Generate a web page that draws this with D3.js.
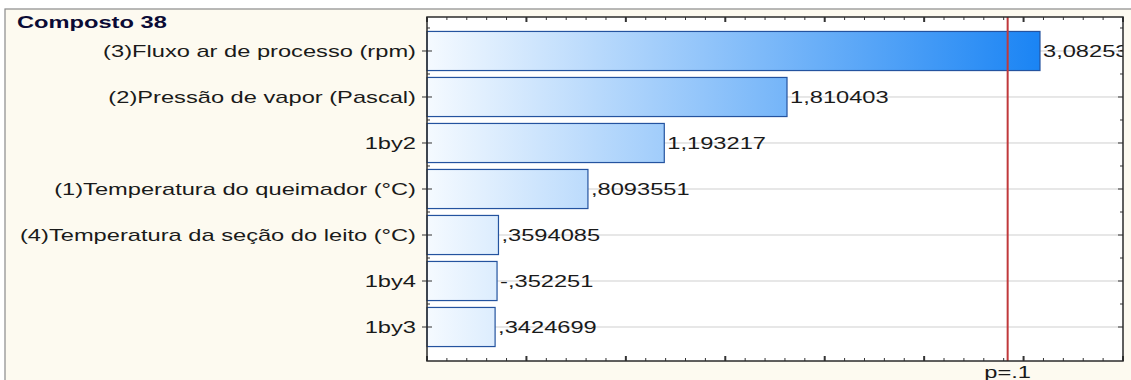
<!DOCTYPE html>
<html>
<head>
<meta charset="utf-8">
<script src="https://cdn.jsdelivr.net/npm/d3@7"></script>
<style>
  html, body { margin: 0; padding: 0; background: #ffffff; }
  svg { display: block; font-family: "Liberation Sans", Arial, sans-serif; }
</style>
</head>
<body>
<svg id="chart" width="1131" height="380"></svg>
<script>
// Pareto chart of standardized effects
const title = "Composto 38";
const factors = [
  "(3)Fluxo ar de processo (rpm)",
  "(2)Pressão de vapor (Pascal)",
  "1by2",
  "(1)Temperatura do queimador (°C)",
  "(4)Temperatura da seção do leito (°C)",
  "1by4",
  "1by3"
];
const effects = [3.082532, 1.810403, 1.193217, 0.8093551, 0.3594085, -0.352251, 0.3424699];
const pLimit = 2.919986;      // critical t value for p = .1
const pLabel = "p=.1";
const xDomain = [0, 3.5];

const W = 1131, H = 380;
const plot = { left: 427, right: 1123, top: 17, bottom: 361 };
const stretch = 1.48;   // horizontal text stretch

const svg = d3.select("#chart");

// page background with a frame on the top and left
svg.append("rect").attr("x", 5).attr("y", 9).attr("width", W).attr("height", H)
  .attr("fill", "#fdfaf0").attr("stroke", "#8a8a8a").attr("stroke-width", 1.2);

const x = d3.scaleLinear().domain(xDomain).range([plot.left, plot.right]);
const y = d3.scaleBand().domain(factors).range([plot.top, plot.bottom])
  .paddingInner(0.15).paddingOuter(0.314);

// gradient fill shared by all bars, running along the value axis
const defs = svg.append("defs");
const grad = defs.append("linearGradient").attr("id", "barFill")
  .attr("gradientUnits", "userSpaceOnUse")
  .attr("x1", x(0)).attr("x2", x(d3.max(effects, Math.abs))).attr("y1", 0).attr("y2", 0);
grad.append("stop").attr("offset", 0).attr("stop-color", "#f5faff");
grad.append("stop").attr("offset", 1).attr("stop-color", "#1a84f4");

defs.append("clipPath").attr("id", "plotClip").append("rect")
  .attr("x", plot.left).attr("y", plot.top)
  .attr("width", plot.right - plot.left).attr("height", plot.bottom - plot.top);

// plot area
svg.append("rect").attr("x", plot.left).attr("y", plot.top)
  .attr("width", plot.right - plot.left).attr("height", plot.bottom - plot.top)
  .attr("fill", "#ffffff");

// horizontal grid lines at each factor
svg.append("g").selectAll("line").data(factors).join("line")
  .attr("x1", plot.left).attr("x2", plot.right)
  .attr("y1", d => y(d) + y.bandwidth() / 2).attr("y2", d => y(d) + y.bandwidth() / 2)
  .attr("stroke", "#cfcfcf").attr("stroke-width", 1);

// bars
const rows = factors.map((f, i) => ({ f, v: effects[i] }));
svg.append("g").selectAll("rect").data(rows).join("rect")
  .attr("x", x(0))
  .attr("y", d => y(d.f))
  .attr("width", d => x(Math.abs(d.v)) - x(0))
  .attr("height", y.bandwidth())
  .attr("fill", "url(#barFill)")
  .attr("stroke", "#24539f").attr("stroke-width", 1.2);

// number format: comma decimal, no leading zero
const fmt = v => {
  let s = String(parseFloat(v.toPrecision(7)));
  s = s.replace(/^(-?)0\./, "$1.");
  return s.replace(".", ",");
};

function stretchedText(sel, tx, ty) {
  return sel.attr("transform", `translate(${tx},${ty}) scale(${stretch},1)`);
}

// value labels beside bars, clipped to the plot frame
const vals = svg.append("g").attr("clip-path", "url(#plotClip)");
rows.forEach(d => {
  stretchedText(vals.append("text"), x(Math.abs(d.v)) + 3, y(d.f) + y.bandwidth() / 2)
    .attr("dy", "0.36em").attr("font-size", 16).attr("fill", "#1a1a1a")
    .text(fmt(d.v));
});

// critical value line
svg.append("line")
  .attr("x1", x(pLimit)).attr("x2", x(pLimit))
  .attr("y1", plot.top).attr("y2", plot.bottom)
  .attr("stroke", "#c0393b").attr("stroke-width", 2);

// axis ticks: majors every 0.5, minors every 0.1
const majors = d3.range(0, xDomain[1] + 1e-9, 0.5);
const minors = d3.range(0, xDomain[1] + 1e-9, 0.1);
const ticks = svg.append("g").attr("stroke", "#333").attr("stroke-width", 1);
minors.forEach(t => {
  const isMajor = majors.some(m => Math.abs(m - t) < 1e-6);
  const len = isMajor ? 5 : 3;
  ticks.append("line").attr("x1", x(t)).attr("x2", x(t))
    .attr("y1", plot.bottom).attr("y2", plot.bottom - len)
    .attr("stroke-width", isMajor ? 2 : 1);
  ticks.append("line").attr("x1", x(t)).attr("x2", x(t))
    .attr("y1", plot.top).attr("y2", plot.top + len)
    .attr("stroke-width", isMajor ? 2 : 1);
});
factors.forEach(f => {
  const cy = y(f) + y.bandwidth() / 2;
  ticks.append("line").attr("x1", plot.left - 5).attr("x2", plot.left + 5).attr("y1", cy).attr("y2", cy);
  ticks.append("line").attr("x1", plot.right - 5).attr("x2", plot.right).attr("y1", cy).attr("y2", cy);
  const by = cy - y.step() / 2;
  ticks.append("line").attr("x1", plot.left).attr("x2", plot.left + 3).attr("y1", by).attr("y2", by);
  ticks.append("line").attr("x1", plot.right - 3).attr("x2", plot.right).attr("y1", by).attr("y2", by);
});

// plot frame
svg.append("rect").attr("x", plot.left).attr("y", plot.top)
  .attr("width", plot.right - plot.left).attr("height", plot.bottom - plot.top)
  .attr("fill", "none").attr("stroke", "#2b2b2b").attr("stroke-width", 1.5);

// factor labels
const cats = svg.append("g");
factors.forEach(f => {
  stretchedText(cats.append("text"), plot.left - 11, y(f) + y.bandwidth() / 2)
    .attr("dy", "0.36em").attr("text-anchor", "end")
    .attr("font-size", 16).attr("fill", "#1a1a1a").text(f);
});

// critical value label under the axis
stretchedText(svg.append("text"), x(pLimit), 378)
  .attr("text-anchor", "middle").attr("font-size", 16).attr("fill", "#1a1a1a")
  .text(pLabel);

// title
stretchedText(svg.append("text"), 17, 28)
  .attr("font-size", 16).attr("font-weight", "bold").attr("fill", "#0b0b35")
  .text(title);
</script>
</body>
</html>
